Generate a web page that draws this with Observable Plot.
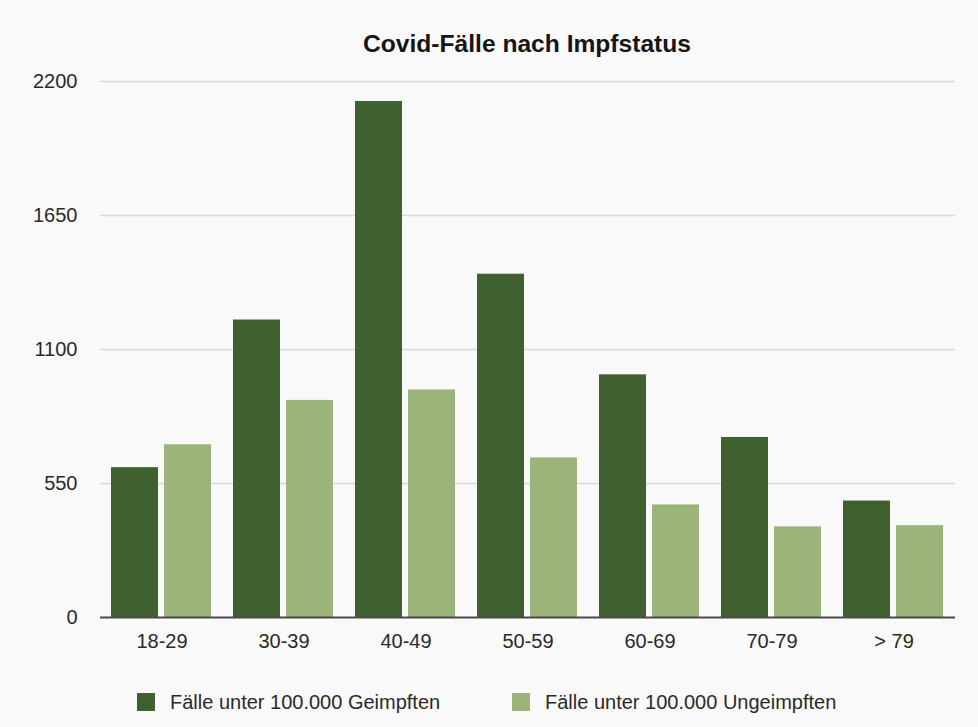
<!DOCTYPE html>
<html>
<head>
<meta charset="utf-8">
<script src="https://cdn.jsdelivr.net/npm/d3@7"></script>
<script src="https://cdn.jsdelivr.net/npm/@observablehq/plot@0.6"></script>
<style>
  html, body { margin: 0; padding: 0; background: #f9f9f9; }
  #wrap { position: relative; width: 978px; height: 727px; background: #f9f9f9; font-family: "Liberation Sans", Arial, Helvetica, sans-serif; overflow: hidden; }
  .layer { position: absolute; left: 0; top: 0; }
  #title { position: absolute; left: 76px; width: 902px; top: 32px; text-align: center; font-weight: bold; font-size: 24.6px; line-height: 24px; color: #151515; }
  .lg-sq { position: absolute; top: 693px; width: 18px; height: 18px; }
  .lg-tx { position: absolute; top: 690px; font-size: 20px; line-height: 24px; color: #2a2a2a; white-space: nowrap; }
</style>
</head>
<body>
<div id="wrap">
  <div id="title">Covid-Fälle nach Impfstatus</div>
</div>
<script>
const ages = ["18-29", "30-39", "40-49", "50-59", "60-69", "70-79", "> 79"];
const seriesNames = ["Fälle unter 100.000 Geimpften", "Fälle unter 100.000 Ungeimpften"];
const geimpft = [615, 1221, 2118, 1409, 996, 739, 478];
const ungeimpft = [709, 891, 934, 655, 462, 372, 377];
const yTicks = [0, 550, 1100, 1650, 2200];
const colors = ["#40612f", "#9ab47a"];

const data = [];
ages.forEach((a, i) => {
  data.push({age: a, series: seriesNames[0], value: geimpft[i]});
  data.push({age: a, series: seriesNames[1], value: ungeimpft[i]});
});

const W = 978, H = 660;
const common = {
  width: W, height: H,
  marginTop: 81, marginBottom: 43, marginLeft: 100, marginRight: 23,
  style: {background: "transparent", fontFamily: '"Liberation Sans", Arial, Helvetica, sans-serif', fontSize: "20px", color: "#2a2a2a", overflow: "visible"}
};
const wrap = document.getElementById("wrap");

// Background: gridlines + y labels
const bg = Plot.plot({
  ...common,
  x: {axis: null},
  y: {domain: [0, 2200], axis: null},
  marks: [
    Plot.ruleY(yTicks.filter(d => d > 0), {stroke: "#d9d9d9", strokeWidth: 1.5}),
    Plot.axisY(yTicks, {tickSize: 0, tickPadding: 23, fontSize: 20, fill: "#2a2a2a", label: null, tickFormat: d => String(d)})
  ]
});
bg.classList.add("layer");
wrap.appendChild(bg);

// Foreground: grouped bars
const fg = Plot.plot({
  ...common,
  fx: {domain: ages, paddingInner: 0.17, paddingOuter: 0.085, label: null, axis: "bottom", tickSize: 0, tickPadding: 16},
  x: {domain: seriesNames, paddingInner: 0.11, paddingOuter: 0, axis: null},
  y: {domain: [0, 2200], axis: null},
  color: {domain: seriesNames, range: colors},
  marks: [
    Plot.barY(data, {fx: "age", x: "series", y: "value", fill: "series"})
  ]
});
fg.classList.add("layer");
wrap.appendChild(fg);

// Overlay: zero baseline
const ov = Plot.plot({
  ...common,
  x: {axis: null},
  y: {domain: [0, 2200], axis: null},
  marks: [Plot.ruleY([0], {stroke: "#4a4a4a", strokeWidth: 2})]
});
ov.classList.add("layer");
wrap.appendChild(ov);

// Legend
const legendPos = [{sq: 137, tx: 170}, {sq: 512, tx: 545}];
seriesNames.forEach((s, i) => {
  const sq = document.createElement("div");
  sq.className = "lg-sq";
  sq.style.left = legendPos[i].sq + "px";
  sq.style.background = colors[i];
  wrap.appendChild(sq);
  const tx = document.createElement("div");
  tx.className = "lg-tx";
  tx.style.left = legendPos[i].tx + "px";
  tx.textContent = s;
  wrap.appendChild(tx);
});
</script>
</body>
</html>
